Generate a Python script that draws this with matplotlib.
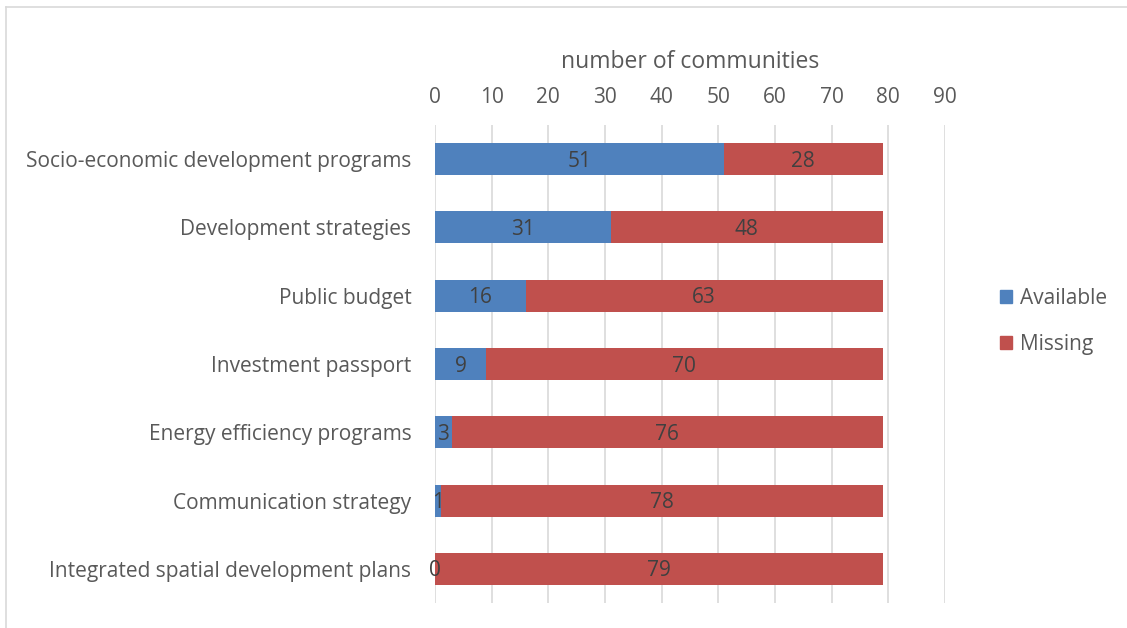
import matplotlib
matplotlib.use("Agg")
import matplotlib.pyplot as plt
from matplotlib.patches import Patch
from matplotlib.lines import Line2D

categories = ["Socio-economic development programs", "Development strategies", "Public budget",
              "Investment passport", "Energy efficiency programs", "Communication strategy",
              "Integrated spatial development plans"]
available = [51, 31, 16, 9, 3, 1, 0]
missing = [28, 48, 63, 70, 76, 78, 79]
xticks = [0, 10, 20, 30, 40, 50, 60, 70, 80, 90]

BLUE = "#4F81BD"
RED = "#C0504D"
TXT = "#595959"
DTXT = "#404040"
FONT = "Open Sans"

fig = plt.figure(figsize=(11.27, 6.28), dpi=100)
ax = fig.add_axes([435/1127, 1-603/628, 510/1127, 478/628])

y = list(range(len(categories)))
ax.barh(y, available, height=0.47, color=BLUE, label="Available", zorder=3)
ax.barh(y, missing, left=available, height=0.47, color=RED, label="Missing", zorder=3)

for i, (a, m) in enumerate(zip(available, missing)):
    ax.text(a/2, i + 0.03, str(a), ha="center", va="center", fontsize=15, color=DTXT, family=FONT, zorder=4)
    ax.text(a + m/2, i + 0.03, str(m), ha="center", va="center", fontsize=15, color=DTXT, family=FONT, zorder=4)

ax.set_xlim(0, 90)
ax.set_ylim(len(categories)-0.5, -0.5)
ax.set_xticks(xticks)
ax.xaxis.tick_top()
ax.xaxis.set_label_position("top")
ax.tick_params(axis="x", length=0, pad=12, labelsize=15, labelcolor=TXT)
ax.tick_params(axis="y", length=0, pad=17, labelsize=15, labelcolor=TXT)
ax.set_yticks(y)
ax.set_yticklabels(categories)
for lab in ax.get_xticklabels() + ax.get_yticklabels():
    lab.set_family(FONT)
ax.set_xlabel("number of communities", fontsize=16.5, color=TXT, family=FONT, labelpad=14)
ax.grid(axis="x", color="#D9D9D9", linewidth=1.2, zorder=0)
for s in ax.spines.values():
    s.set_visible(False)

handles = [Patch(color=BLUE), Patch(color=RED)]
fig.legend(handles, ["Available", "Missing"], loc="center left", bbox_to_anchor=(981/1127, 1-321/628),
           frameon=False, prop={"family": FONT, "size": 15}, labelcolor=TXT,
           handlelength=0.6, handleheight=0.6, handletextpad=0.35, labelspacing=1.2)

# outer chart border (top and left visible)
fig.add_artist(Line2D([6/1127, 6/1127], [0, 1-7/628], color="#D9D9D9", lw=1.2, transform=fig.transFigure))
fig.add_artist(Line2D([6/1127, 1], [1-7/628, 1-7/628], color="#D9D9D9", lw=1.2, transform=fig.transFigure))

fig.savefig("out.png", dpi=100)
